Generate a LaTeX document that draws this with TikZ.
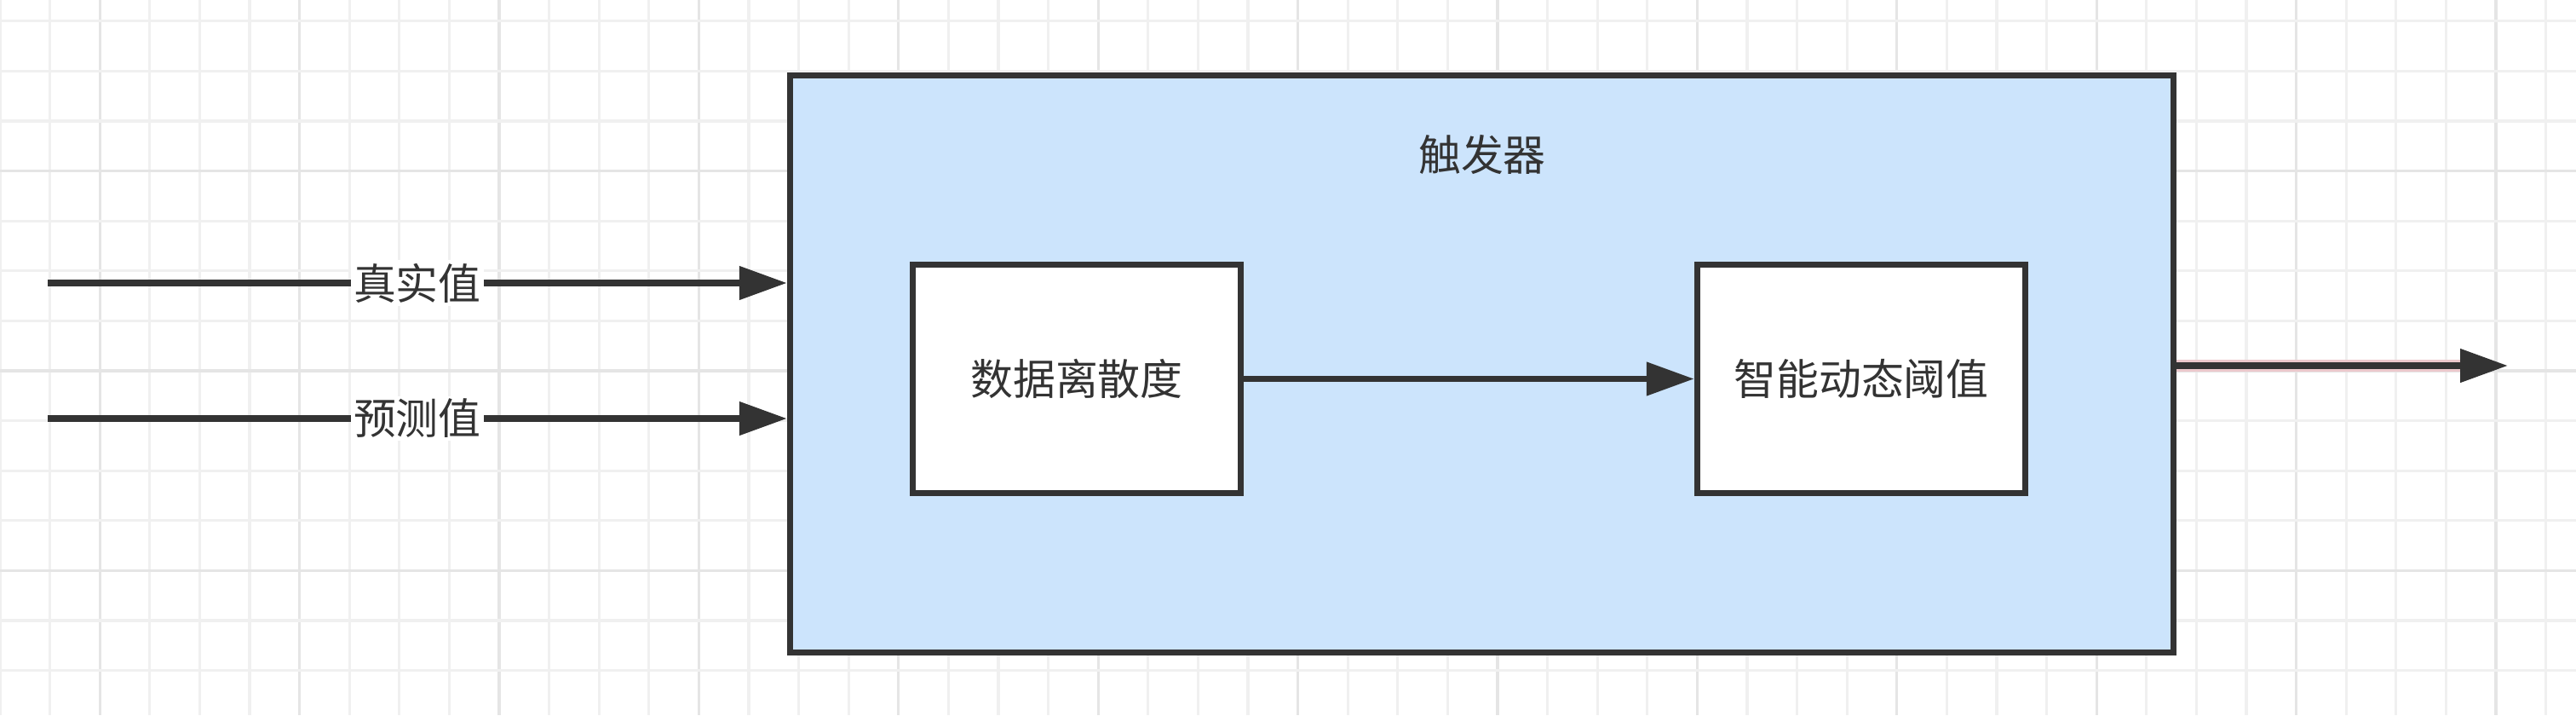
\documentclass[tikz,border=0pt]{standalone}
\usepackage{fontspec}
\newfontfamily\cjk{Noto Sans CJK SC}
\usetikzlibrary{arrows.meta}
\definecolor{boxblue}{RGB}{204,228,252}
\definecolor{linegray}{RGB}{51,51,51}
\definecolor{gridminor}{RGB}{240,240,240}
\definecolor{gridmajor}{RGB}{229,229,229}
\definecolor{glowred}{RGB}{236,200,204}
\tikzset{
	zh/.style={font=\cjk\fontsize{14.2}{17}\selectfont, text=linegray},
	block/.style={zh, draw=linegray, line width=2.1pt, fill=white, minimum width=3.85cm, minimum height=2.68cm},
	conn/.style={draw=linegray, line width=2.2pt, -{Triangle[length=5.6mm,width=3.8mm]}},
	lbl/.style={zh, fill=white, inner sep=1pt}
}
\begin{document}
\begin{tikzpicture}
		\useasboundingbox (0,0) rectangle (30.24,8.39);
		\fill[white] (0,0) rectangle (30.24,8.39);
		% grid
		\foreach \i in {0,...,51} {
			\pgfmathtruncatemacro{\m}{mod(\i,4)}
			\ifnum\m=2
				\draw[gridmajor, line width=0.9pt] (\i*0.586,0) -- (\i*0.586,8.39);
			\else
				\draw[gridminor, line width=0.9pt] (\i*0.586,0) -- (\i*0.586,8.39);
			\fi
		}
		\foreach \k in {0,...,13} {
			\pgfmathtruncatemacro{\m}{mod(\k,4)}
			\ifnum\m=3
				\draw[gridmajor, line width=0.9pt] (0,8.142-\k*0.586) -- (30.24,8.142-\k*0.586);
			\else
				\draw[gridminor, line width=0.9pt] (0,8.142-\k*0.586) -- (30.24,8.142-\k*0.586);
			\fi
		}
		% boxes
		\node[draw=linegray, line width=2.1pt, fill=boxblue, minimum width=16.24cm, minimum height=6.77cm] (trigger) at (17.395,4.12) {};
		\node[zh] (title) at (17.40,6.57) {触发器};
		\node[block] (spread) at (12.64,3.945) {数据离散度};
		\node[block] (thresh) at (21.85,3.945) {智能动态阈值};
		% arrows
		\coordinate (realsrc) at (0.56,5.07);
		\coordinate (predsrc) at (0.56,3.48);
		\coordinate (outend) at (29.44,4.10);
		\draw[conn] (realsrc) -- (realsrc -| trigger.west) node[lbl, midway] {真实值};
		\draw[conn] (predsrc) -- (predsrc -| trigger.west) node[lbl, midway] {预测值};
		\draw[conn] (spread.east) -- (thresh.west);
		\draw[conn, preaction={-, draw=glowred, line width=4pt, shorten >=5mm}] (trigger.east |- outend) -- (outend);
	\end{tikzpicture}
\end{document}
